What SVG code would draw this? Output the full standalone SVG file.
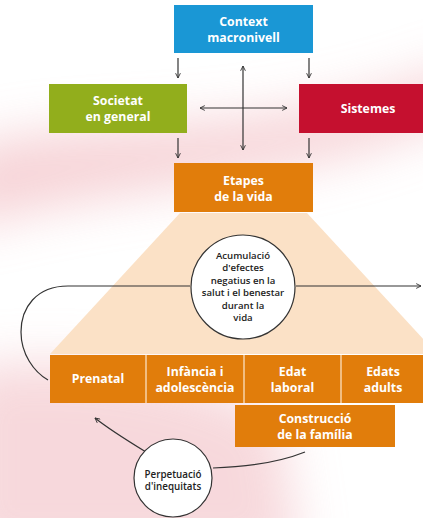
<svg xmlns="http://www.w3.org/2000/svg" width="423" height="518" viewBox="0 0 423 518">
<defs>
<style>
.box text{fill:#fff;font-family:"Open Sans","Liberation Sans",sans-serif;font-weight:700;font-size:12.3px;text-anchor:middle}
.ct text{fill:#222;font-family:"Open Sans","Liberation Sans",sans-serif;font-weight:600;text-anchor:middle}
.ln{fill:none;stroke:#333;stroke-width:1.2}
.div{stroke:#f7d3a8;stroke-width:1.5}
</style>
<marker id="ah" viewBox="0 0 10 10" refX="9" refY="5" markerWidth="6" markerHeight="6" orient="auto-start-reverse" markerUnits="userSpaceOnUse">
<path d="M1,1 L9,5 L1,9" fill="none" stroke="#333" stroke-width="1.5"/>
</marker>
<filter id="bl" x="-50%" y="-50%" width="200%" height="200%"><feGaussianBlur stdDeviation="25"/></filter>
</defs>
<rect width="423" height="518" fill="#fff"/>
<g filter="url(#bl)" opacity="0.6">
<path d="M-40,150 C80,110 250,150 470,60 L470,110 C300,190 120,180 -40,230 Z" fill="#f1b7bd"/>
<path d="M-40,370 C60,350 200,370 280,420 L300,560 L-40,560 Z" fill="#f2bfc5"/>
</g>
<g id="trapezoid"><polygon points="180,213 307,213 437,354 50,354" fill="#fbe1c6"/></g>
<g id="connectors">
<line class="ln" x1="178" y1="58" x2="178" y2="78" marker-end="url(#ah)"/>
<line class="ln" x1="309" y1="58" x2="309" y2="78" marker-end="url(#ah)"/>
<line class="ln" x1="178" y1="138" x2="178" y2="158" marker-end="url(#ah)"/>
<line class="ln" x1="309" y1="138" x2="309" y2="158" marker-end="url(#ah)"/>
<line class="ln" x1="243" y1="66" x2="243" y2="150" marker-start="url(#ah)" marker-end="url(#ah)"/>
<line class="ln" x1="200" y1="108" x2="287" y2="108" marker-start="url(#ah)" marker-end="url(#ah)"/>
<path class="ln" d="M296,286 H421" marker-end="url(#ah)"/>
<path class="ln" d="M190,286 H68 C36,286 21,308 21,332 C21,354 34,372 48,380"/>
<path class="ln" d="M305,452 C280,462 245,467 213,468"/>
<path class="ln" d="M146,452 C128,441 110,430 95,418" marker-end="url(#ah)"/>
</g>
<g id="context" class="box"><rect x="174" y="5" width="139" height="48" fill="#1a97d5"/><text x="243.5" y="26">Context</text><text x="243.5" y="42">macronivell</text></g>
<g id="societat" class="box"><rect x="49" y="84" width="138" height="49" fill="#92ae1c"/><text x="118" y="105">Societat</text><text x="118" y="121">en general</text></g>
<g id="sistemes" class="box"><rect x="299" y="84" width="124" height="49" fill="#c5102f"/><text x="368" y="113">Sistemes</text></g>
<g id="etapes" class="box"><rect x="174" y="163" width="139" height="49" fill="#e17d0b"/><text x="243.5" y="185">Etapes</text><text x="243.5" y="201">de la vida</text></g>
<g id="acumulacio" class="ct"><circle cx="243" cy="287" r="52" fill="#fff" stroke="#333" stroke-width="1.2"/>
<g font-size="9.6"><text x="243" y="259">Acumulació</text><text x="243" y="271.4">d'efectes</text><text x="243" y="283.8">negatius en la</text><text x="243" y="296.2">salut i el benestar</text><text x="243" y="308.6">durant la</text><text x="243" y="321">vida</text></g></g>
<g id="prenatal" class="box"><rect x="50" y="355" width="96" height="48" fill="#e17d0b"/><text x="98" y="383">Prenatal</text></g>
<g id="infancia" class="box"><rect x="146" y="355" width="98" height="48" fill="#e17d0b"/><text x="195" y="376">Infància i</text><text x="195" y="392">adolescència</text></g>
<g id="laboral" class="box"><rect x="244" y="355" width="97" height="48" fill="#e17d0b"/><text x="292.5" y="376">Edat</text><text x="292.5" y="392">laboral</text></g>
<g id="adults" class="box"><rect x="341" y="355" width="82" height="48" fill="#e17d0b"/><text x="383" y="376">Edats</text><text x="383" y="392">adults</text></g>
<g id="dividers"><line class="div" x1="146" y1="355" x2="146" y2="403"/><line class="div" x1="244" y1="355" x2="244" y2="403"/><line class="div" x1="341" y1="355" x2="341" y2="403"/></g>
<g id="construccio" class="box"><rect x="235" y="405" width="160" height="42" fill="#e17d0b"/><text x="315" y="423">Construcció</text><text x="315" y="439">de la família</text></g>
<g id="perpetuacio" class="ct"><circle cx="173" cy="478" r="39" fill="#fff" stroke="#333" stroke-width="1.2"/>
<g font-size="9.8"><text x="173" y="478">Perpetuació</text><text x="173" y="490">d'inequitats</text></g></g>
</svg>
